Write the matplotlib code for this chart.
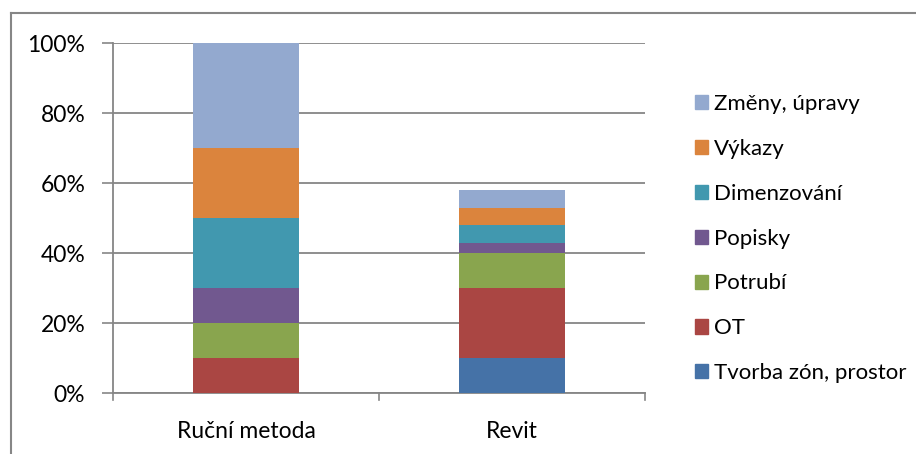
import numpy as np
import matplotlib.pyplot as plt
from matplotlib.patches import Patch
from matplotlib.lines import Line2D

categories = ['Ruční metoda', 'Revit']
series = ['Tvorba zón, prostor', 'OT', 'Potrubí', 'Popisky',
          'Dimenzování', 'Výkazy', 'Změny, úpravy']
values = {
    'Tvorba zón, prostor': [0, 10],
    'OT': [10, 20],
    'Potrubí': [10, 10],
    'Popisky': [10, 3],
    'Dimenzování': [20, 5],
    'Výkazy': [20, 5],
    'Změny, úpravy': [30, 5],
}
colors = ['#4572A7', '#AA4643', '#89A54E', '#71588F',
          '#4198AF', '#DB843D', '#93A9CF']
yticks = [0, 20, 40, 60, 80, 100]

plt.rcParams['font.family'] = ['Lato', 'DejaVu Sans']
W, H = 916, 454
fig = plt.figure(figsize=(W / 100, H / 100), dpi=100)
ax = fig.add_axes([113 / W, (H - 393) / H, (645 - 113) / W, 350 / H])

x = np.arange(len(categories))
bottom = np.zeros(len(categories))
for name, c in zip(series, colors):
    v = np.array(values[name], dtype=float)
    ax.bar(x, v, 0.4, bottom=bottom, color=c, zorder=3)
    bottom += v

ax.set_xlim(-0.5, 1.5)
ax.set_ylim(0, 100)
ax.set_yticks(yticks)
ax.set_yticklabels([f'{t}%' for t in yticks], fontsize=16.5)
ax.set_xticks(x)
ax.set_xticklabels(categories, fontsize=16.5)
ax.tick_params(axis='x', length=0, pad=20)
ax.tick_params(axis='y', length=8, width=1.2, color='#868686', pad=12)
for t in [-0.5, 0.5, 1.5]:
    ax.plot([t, t], [0, -2], color='#868686', lw=1.2, clip_on=False, zorder=4)
ax.grid(axis='y', color='#868686', lw=1.3, zorder=0)
for s in ['top', 'right']:
    ax.spines[s].set_visible(False)
for s in ['left', 'bottom']:
    ax.spines[s].set_color('#868686')
    ax.spines[s].set_linewidth(1.3)

handles = [Patch(color=c, label=n) for n, c in zip(series, colors)][::-1]
fig.legend(handles=handles, loc='upper left', bbox_to_anchor=(686 / W, 1 - 85 / H),
           frameon=False, fontsize=16, handlelength=0.6, handleheight=0.6,
           handletextpad=0.25, labelspacing=1.12, borderaxespad=0)

# outer chart frame (left and top edges)
fig.add_artist(Line2D([11 / W, 11 / W], [0, 1 - 13 / H], color='#868686', lw=1.5))
fig.add_artist(Line2D([11 / W, 1], [1 - 13 / H, 1 - 13 / H], color='#868686', lw=1.5))

fig.savefig('out.png', dpi=100)
